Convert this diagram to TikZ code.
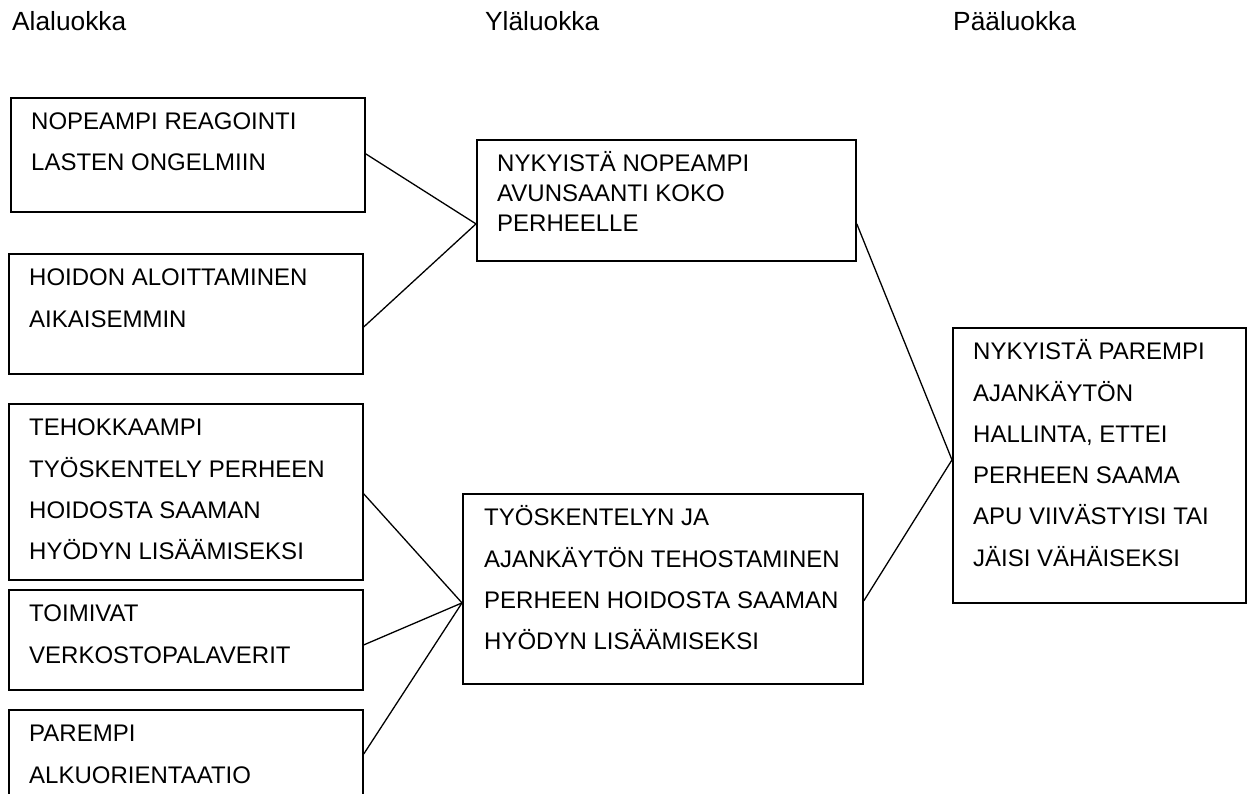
\documentclass[tikz,border=0pt]{standalone}
\usepackage{fontspec}
\setsansfont{Liberation Sans}
\usetikzlibrary{positioning}
\tikzset{
  every picture/.style={font=\sffamily\fontsize{24}{41.3}\selectfont},
  box/.style={draw, line width=1.8pt, anchor=north west, inner sep=0pt},
  txt/.style={anchor=north west, inner sep=0pt, align=left},
  head/.style={anchor=base west, inner sep=0pt, font=\sffamily\fontsize{26.3}{30}\selectfont},
  link/.style={draw, line width=1.3pt},
}
\newcommand{\firstline}{\rule{0pt}{30pt}}

\begin{document}
\begin{tikzpicture}[x=1pt, y=-1pt]
  \path[use as bounding box] (0,0) rectangle (1247,794);
  \clip (0,0) rectangle (1247,794);
  % headings
  \node[head] (h1) at (12,31) {Alaluokka};
  \node[head] (h2) at (485,31) {Yläluokka};
  \node[head] (h3) at (953,31) {Pääluokka};
  % left column
  \foreach \i/\x/\y/\h/\txt in {
      1/10/97/114/{NOPEAMPI REAGOINTI\\LASTEN ONGELMIIN},
      2/8/253/120/{HOIDON ALOITTAMINEN\\AIKAISEMMIN},
      3/8/403/176/{TEHOKKAAMPI\\TYÖSKENTELY PERHEEN\\HOIDOSTA SAAMAN\\HYÖDYN LISÄÄMISEKSI},
      4/8/589/100/{TOIMIVAT\\VERKOSTOPALAVERIT},
      5/8/709/111/{PAREMPI\\ALKUORIENTAATIO}} {
    \node[box, minimum width=354pt, minimum height=\h pt] (b\i) at (\x,\y) {};
    \node[txt, below right=2.5pt and 21pt of b\i.north west] (t\i) {\firstline\txt};
  }
  % middle column
  \node[box, minimum width=379pt, minimum height=121pt] (b6) at (476,139) {};
  \node[txt, font=\sffamily\fontsize{24}{30}\selectfont, below right=2.5pt and 21pt of b6.north west] (t6)
    {\firstline NYKYISTÄ NOPEAMPI\\AVUNSAANTI KOKO\\PERHEELLE};
  \node[box, minimum width=400pt, minimum height=190pt] (b7) at (462,493) {};
  \node[txt, below right=2.5pt and 22pt of b7.north west] (t7)
    {\firstline TYÖSKENTELYN JA\\AJANKÄYTÖN TEHOSTAMINEN\\PERHEEN HOIDOSTA SAAMAN\\HYÖDYN LISÄÄMISEKSI};
  % right column
  \node[box, minimum width=293pt, minimum height=275pt] (b8) at (952,327) {};
  \node[txt, below right=2.5pt and 21pt of b8.north west] (t8)
    {\firstline NYKYISTÄ PAREMPI\\AJANKÄYTÖN\\HALLINTA, ETTEI\\PERHEEN SAAMA\\APU VIIVÄSTYISI TAI\\JÄISI VÄHÄISEKSI};
  % connectors
  \draw[link] ([yshift=1pt]b1.east) -- ([yshift=-23.5pt]b6.west);
  \draw[link] ([yshift=-13pt]b2.east) -- ([yshift=-23.5pt]b6.west);
  \draw[link] ([yshift=-2pt]b3.east) -- ([yshift=-14pt]b7.west);
  \draw[link] ([yshift=-5pt]b4.east) -- ([yshift=-14pt]b7.west);
  \draw[link] ([yshift=11.5pt]b5.east) -- ([yshift=-14pt]b7.west);
  \draw[link] ([yshift=-23.5pt]b6.east) -- ([yshift=5.5pt]b8.west);
  \draw[link] ([yshift=-12pt]b7.east) -- ([yshift=5.5pt]b8.west);
\end{tikzpicture}
\end{document}
